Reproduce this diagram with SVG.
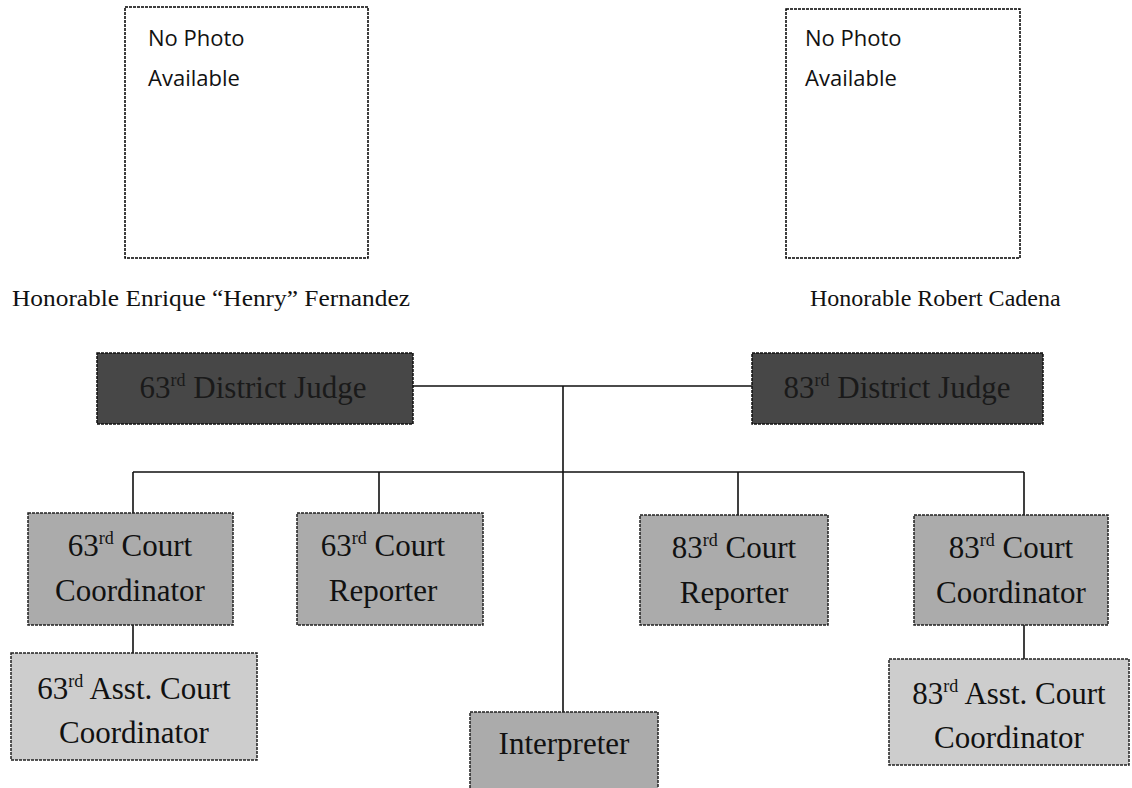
<svg xmlns="http://www.w3.org/2000/svg" width="1132" height="788" viewBox="0 0 1132 788">
<style>
.photo{fill:#fff;stroke:#000;stroke-width:1.5;stroke-dasharray:3 1}
.judge{fill:#474747;stroke:#111;stroke-width:1.5;stroke-dasharray:3 1}
.court{fill:#ababab;stroke:#222;stroke-width:1.5;stroke-dasharray:3 1}
.asst{fill:#cdcdcd;stroke:#222;stroke-width:1.5;stroke-dasharray:3 1}
.sans{font-family:"Open Sans","Noto Sans",sans-serif;font-size:22px;fill:#111}
.cap{font-family:"Liberation Serif",serif;font-size:24px;fill:#111}
.lbl{font-family:"Liberation Serif",serif;font-size:31px;fill:#111;text-anchor:middle}
.jl{font-family:"Liberation Serif",serif;font-size:31px;fill:#1a1a1a;text-anchor:middle}
.conn{stroke:#111;stroke-width:1.6;fill:none}
</style>
<rect width="1132" height="788" fill="#fff"/>
<g id="photo-fernandez">
<rect class="photo" x="125" y="7" width="243" height="251"/>
<text class="sans" x="148" y="46">No Photo</text>
<text class="sans" x="148" y="86">Available</text>
<text class="cap" x="12" y="306" textLength="398" lengthAdjust="spacingAndGlyphs">Honorable Enrique “Henry” Fernandez</text>
</g>
<g id="photo-cadena">
<rect class="photo" x="786" y="9" width="234" height="249"/>
<text class="sans" x="805" y="46">No Photo</text>
<text class="sans" x="805" y="86">Available</text>
<text class="cap" x="810" y="306" font-size="23">Honorable Robert Cadena</text>
</g>
<g id="connectors">
<path class="conn" d="M413 386H752M563 386V712M133 472H1024M133 472V513M379 472V513M738 472V515M1024 472V515M133 625V653M1024 625V659"/>
</g>
<g id="judge-63">
<rect class="judge" x="97" y="353" width="316" height="71"/>
<text class="jl" x="253" y="398">63<tspan font-size="18" dy="-12">rd</tspan><tspan dy="12"> District Judge</tspan></text>
</g>
<g id="judge-83">
<rect class="judge" x="752" y="353" width="291" height="71"/>
<text class="jl" x="897" y="398">83<tspan font-size="18" dy="-12">rd</tspan><tspan dy="12"> District Judge</tspan></text>
</g>
<g id="coord-63">
<rect class="court" x="28" y="513" width="205" height="112"/>
<text class="lbl" x="130" y="556">63<tspan font-size="18" dy="-12">rd</tspan><tspan dy="12"> Court</tspan></text>
<text class="lbl" x="130" y="601">Coordinator</text>
</g>
<g id="reporter-63">
<rect class="court" x="297" y="513" width="186" height="112"/>
<text class="lbl" x="383" y="556">63<tspan font-size="18" dy="-12">rd</tspan><tspan dy="12"> Court</tspan></text>
<text class="lbl" x="383" y="601">Reporter</text>
</g>
<g id="reporter-83">
<rect class="court" x="640" y="515" width="188" height="110"/>
<text class="lbl" x="734" y="558">83<tspan font-size="18" dy="-12">rd</tspan><tspan dy="12"> Court</tspan></text>
<text class="lbl" x="734" y="603">Reporter</text>
</g>
<g id="coord-83">
<rect class="court" x="914" y="515" width="194" height="110"/>
<text class="lbl" x="1011" y="558">83<tspan font-size="18" dy="-12">rd</tspan><tspan dy="12"> Court</tspan></text>
<text class="lbl" x="1011" y="603">Coordinator</text>
</g>
<g id="asst-63">
<rect class="asst" x="11" y="653" width="246" height="107"/>
<text class="lbl" x="134" y="699">63<tspan font-size="18" dy="-12">rd</tspan><tspan dy="12"> Asst. Court</tspan></text>
<text class="lbl" x="134" y="743">Coordinator</text>
</g>
<g id="asst-83">
<rect class="asst" x="889" y="659" width="240" height="106"/>
<text class="lbl" x="1009" y="704">83<tspan font-size="18" dy="-12">rd</tspan><tspan dy="12"> Asst. Court</tspan></text>
<text class="lbl" x="1009" y="748">Coordinator</text>
</g>
<g id="interpreter">
<rect class="court" x="470" y="712" width="188" height="80"/>
<text class="lbl" x="564" y="754">Interpreter</text>
</g>
</svg>
